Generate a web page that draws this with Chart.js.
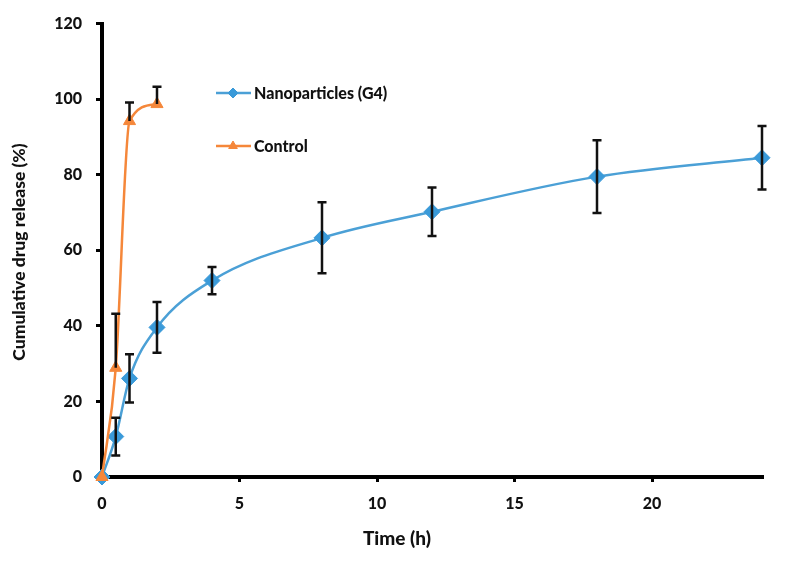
<!DOCTYPE html>
<html>
<head>
<meta charset="utf-8">
<script src="https://cdn.jsdelivr.net/npm/chart.js@4"></script>
<style>
html,body{margin:0;padding:0;background:#fff;}
#wrap{width:785px;height:561px;position:relative;}
</style>
</head>
<body>
<div id="wrap"><canvas id="c" width="785" height="561"></canvas></div>
<script>
const timeNano = [0, 0.5, 1, 2, 4, 8, 12, 18, 24];
const releaseNano = [0, 10.7, 26.1, 39.6, 52.0, 63.3, 70.2, 79.5, 84.5];
const errNano = [0, 5.0, 6.4, 6.7, 3.6, 9.4, 6.4, 9.6, 8.4];
const timeControl = [0, 0.5, 1, 2];
const releaseControl = [0, 28.9, 94.2, 98.7];
const errControlUp = [0, 14.3, 4.9, 4.6];
const legendLabels = ["Nanoparticles (G4)", "Control"];
const xTicks = [0, 5, 10, 15, 20];
const yTicks = [0, 20, 40, 60, 80, 100, 120];

const FONT = "Lato, 'Open Sans', sans-serif";
const blue = "#3A9AD9";
const blueLine = "#4BA0D6";
const orange = "#F5873A";

const errBars = {
  id: 'errBars',
  afterDatasetsDraw(chart) {
    const ctx = chart.ctx, xs = chart.scales.x, ys = chart.scales.y;
    ctx.save();
    ctx.strokeStyle = '#111';
    ctx.lineWidth = 2.5;
    const cap = 4.5;
    function bar(x, lo, hi, drawLo) {
      const px = xs.getPixelForValue(x);
      const pt = ys.getPixelForValue(hi), pb = ys.getPixelForValue(lo);
      ctx.beginPath();
      ctx.moveTo(px, pt); ctx.lineTo(px, pb);
      ctx.moveTo(px - cap, pt); ctx.lineTo(px + cap, pt);
      if (drawLo) { ctx.moveTo(px - cap, pb); ctx.lineTo(px + cap, pb); }
      ctx.stroke();
    }
    timeNano.forEach((t, i) => { if (errNano[i] > 0) bar(t, releaseNano[i] - errNano[i], releaseNano[i] + errNano[i], true); });
    timeControl.forEach((t, i) => { if (errControlUp[i] > 0) bar(t, releaseControl[i], releaseControl[i] + errControlUp[i], false); });
    ctx.restore();
  }
};

const customLegend = {
  id: 'customLegend',
  afterDraw(chart) {
    const ctx = chart.ctx;
    const items = [
      {y: 93, color: blueLine, mcolor: blue, style: 'rectRot', text: legendLabels[0]},
      {y: 146, color: orange, mcolor: orange, style: 'triangle', text: legendLabels[1]}
    ];
    ctx.save();
    items.forEach(it => {
      ctx.strokeStyle = it.color; ctx.lineWidth = 2.5;
      ctx.beginPath(); ctx.moveTo(216, it.y); ctx.lineTo(251, it.y); ctx.stroke();
      ctx.fillStyle = it.mcolor; ctx.strokeStyle = it.mcolor; ctx.lineWidth = 1;
      Chart.helpers.drawPoint(ctx, {pointStyle: it.style, radius: 5, borderWidth: 1}, 233, it.y);
      ctx.fillStyle = '#111';
      ctx.font = "900 16px " + FONT;
      ctx.textBaseline = 'middle'; ctx.textAlign = 'left';
      ctx.fillText(it.text, 254, it.y + 1);
    });
    // axis titles
    ctx.font = "900 19px " + FONT;
    ctx.textAlign = 'center'; ctx.textBaseline = 'middle';
    ctx.fillText("Time (h)", 397, 539);
    ctx.font = "900 17.5px " + FONT;
    ctx.translate(19, 252); ctx.rotate(-Math.PI/2);
    ctx.fillText("Cumulative drug release (%)", 0, 0);
    ctx.restore();
  }
};

new Chart(document.getElementById('c'), {
  type: 'scatter',
  data: {
    datasets: [
      {
        label: legendLabels[0],
        data: timeNano.map((t, i) => ({x: t, y: releaseNano[i]})),
        showLine: true, clip: false, order: 1,
        borderColor: blueLine, borderWidth: 2.5,
        backgroundColor: blue,
        pointStyle: 'rectRot', pointRadius: 8, pointBorderColor: blue, pointBorderWidth: 1,
        cubicInterpolationMode: 'monotone'
      },
      {
        label: legendLabels[1],
        data: timeControl.map((t, i) => ({x: t, y: releaseControl[i]})),
        showLine: true, clip: false, order: 0,
        borderColor: orange, borderWidth: 2.5,
        backgroundColor: orange,
        pointStyle: 'triangle', pointRadius: 7, pointBorderColor: orange, pointBorderWidth: 1,
        cubicInterpolationMode: 'monotone'
      }
    ]
  },
  options: {
    responsive: false, animation: false,
    layout: {padding: {left: 0, right: 23, top: 22, bottom: 0}},
    plugins: {legend: {display: false}, tooltip: {enabled: false}},
    scales: {
      x: {
        type: 'linear', min: 0, max: 24,
        afterFit(s) { s.height = 84; },
        afterBuildTicks(s) { s.ticks = xTicks.map(v => ({value: v})); },
        border: {display: true, color: '#000', width: 4},
        grid: {display: true, drawOnChartArea: false, drawTicks: true, tickLength: 5, color: '#000', lineWidth: 3},
        ticks: {color: '#111', font: {family: FONT, size: 16, weight: '900'}, padding: 12, maxRotation: 0}
      },
      y: {
        type: 'linear', min: 0, max: 120,
        afterFit(s) { s.width = 102; },
        afterBuildTicks(s) { s.ticks = yTicks.map(v => ({value: v})); },
        border: {display: true, color: '#000', width: 4},
        grid: {display: true, drawOnChartArea: false, drawTicks: true, tickLength: 6, color: '#000', lineWidth: 3},
        ticks: {color: '#111', font: {family: FONT, size: 16, weight: '900'}, padding: 14}
      }
    }
  },
  plugins: [errBars, customLegend]
});
</script>
</body>
</html>
